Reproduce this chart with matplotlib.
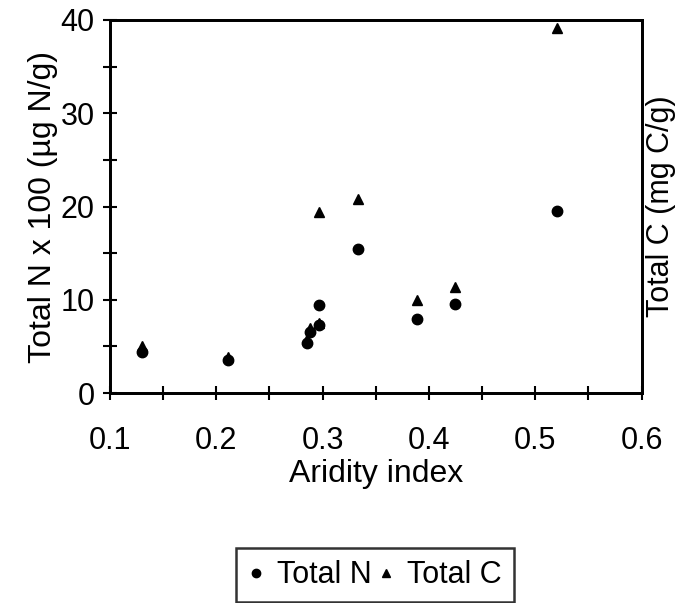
import matplotlib
matplotlib.use("Agg")
import matplotlib.pyplot as plt
from matplotlib.ticker import MultipleLocator
from matplotlib.lines import Line2D

plt.rcParams['font.family'] = ['Liberation Sans', 'DejaVu Sans']

# aridity index of each site with soil totals
aridity = [0.130, 0.211, 0.285, 0.288, 0.297, 0.297, 0.333, 0.389, 0.424, 0.520]
total_n = [4.4, 3.5, 5.4, 6.6, 9.4, 7.3, 15.5, 7.9, 9.6, 19.5]
total_c = [5.0, 3.9, 5.8, 7.0, 19.4, 7.5, 20.8, 10.0, 11.4, 39.1]

fig = plt.figure(figsize=(6.79, 6.03), dpi=100)
ax = fig.add_axes([0.162, 0.348, 0.783, 0.619])

ax.plot(aridity, total_n, 'o', c='k', markersize=7.5, label='Total N')
ax.plot(aridity, total_c, '^', c='k', markersize=7.5, label='Total C')

ax.set_xlim(0.1, 0.6)
ax.set_ylim(0, 40)
ax.xaxis.set_major_locator(MultipleLocator(0.1))
ax.xaxis.set_minor_locator(MultipleLocator(0.05))
ax.yaxis.set_major_locator(MultipleLocator(10))
ax.yaxis.set_minor_locator(MultipleLocator(5))
ax.xaxis.set_major_formatter(plt.FuncFormatter(lambda v, p: f'{v:.1f}'))
ax.tick_params(which='both', direction='inout', length=10, width=1.5,
               labelsize=22, top=False, right=False)
ax.tick_params(axis='x', which='major', pad=19)
ax.tick_params(axis='y', which='major', pad=6)
for s in ax.spines.values():
    s.set_linewidth(2)

ax.set_xlabel('Aridity index', fontsize=23, labelpad=2)
ax.set_ylabel('Total N x 100 (µg N/g)', fontsize=23, labelpad=2)

# right-hand axis only carries the carbon label
ax2 = ax.twinx()
ax2.set_ylim(0, 40)
ax2.set_yticks([])
ax2.set_ylabel('Total C (mg C/g)', fontsize=22)
ax2.yaxis.set_label_coords(1.008, 0.5)
for s in ax2.spines.values():
    s.set_linewidth(2)

handles = [Line2D([], [], marker='o', ls='', c='k', markersize=6),
           Line2D([], [], marker='^', ls='', c='k', markersize=6)]
leg = fig.legend(handles, ['Total N', 'Total C'], loc='center',
                 bbox_to_anchor=(0.552, 0.046), ncol=2, fontsize=22,
                 frameon=True, fancybox=False, handlelength=0.5,
                 handletextpad=0.45, columnspacing=0.2, borderpad=0.4)
leg.get_frame().set_edgecolor('k')
leg.get_frame().set_linewidth(1.8)

fig.savefig('out.png', dpi=100)
